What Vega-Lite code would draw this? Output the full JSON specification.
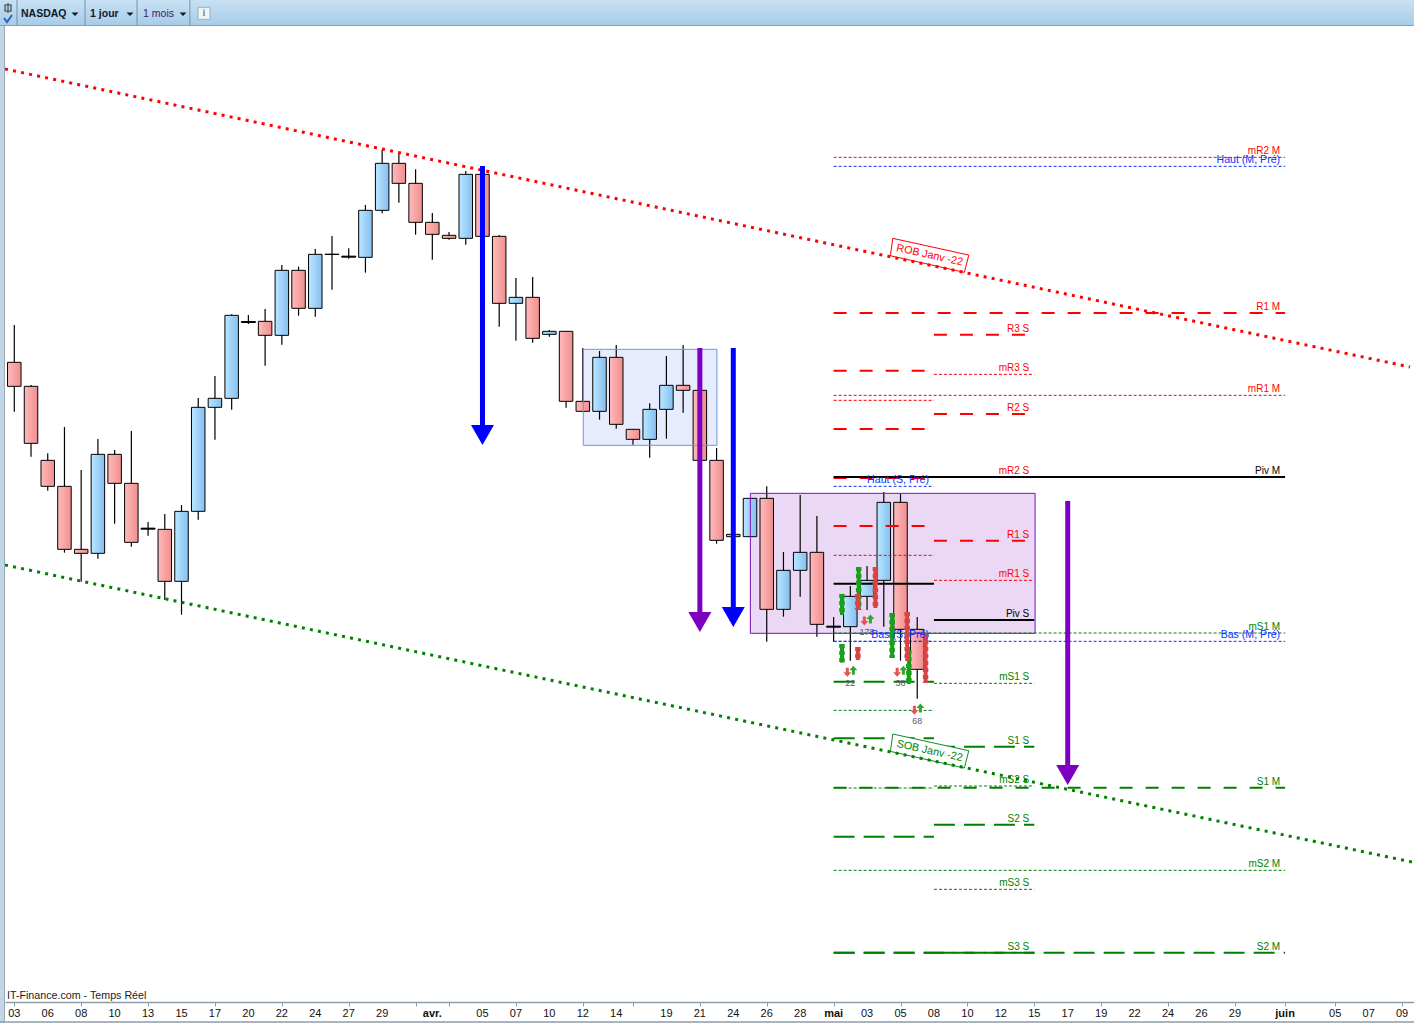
{
"$schema":"https://vega.github.io/schema/vega-lite/v6.json",
"width":1409,"height":976,
"autosize":{"type":"none"},
"padding":{"left":5,"top":26,"right":0,"bottom":21},
"background":"white",
"view":{"stroke":null},
"config":{"scale":{"continuousPadding":0},"axis":{"labelOverlap":false}},
"datasets":{
"dates":[
{"day":0,"price":10072,"text":"03","weight":"normal"},{"day":2,"price":10072,"text":"06","weight":"normal"},{"day":4,"price":10072,"text":"08","weight":"normal"},{"day":6,"price":10072,"text":"10","weight":"normal"},{"day":8,"price":10072,"text":"13","weight":"normal"},{"day":10,"price":10072,"text":"15","weight":"normal"},{"day":12,"price":10072,"text":"17","weight":"normal"},{"day":14,"price":10072,"text":"20","weight":"normal"},{"day":16,"price":10072,"text":"22","weight":"normal"},{"day":18,"price":10072,"text":"24","weight":"normal"},{"day":20,"price":10072,"text":"27","weight":"normal"},{"day":22,"price":10072,"text":"29","weight":"normal"},
{"day":25,"price":10072,"text":"avr.","weight":"bold"},
{"day":28,"price":10072,"text":"05","weight":"normal"},{"day":30,"price":10072,"text":"07","weight":"normal"},{"day":32,"price":10072,"text":"10","weight":"normal"},{"day":34,"price":10072,"text":"12","weight":"normal"},{"day":36,"price":10072,"text":"14","weight":"normal"},{"day":39,"price":10072,"text":"19","weight":"normal"},{"day":41,"price":10072,"text":"21","weight":"normal"},{"day":43,"price":10072,"text":"24","weight":"normal"},{"day":45,"price":10072,"text":"26","weight":"normal"},{"day":47,"price":10072,"text":"28","weight":"normal"},
{"day":49,"price":10072,"text":"mai","weight":"bold"},
{"day":51,"price":10072,"text":"03","weight":"normal"},{"day":53,"price":10072,"text":"05","weight":"normal"},{"day":55,"price":10072,"text":"08","weight":"normal"},{"day":57,"price":10072,"text":"10","weight":"normal"},{"day":59,"price":10072,"text":"12","weight":"normal"},{"day":61,"price":10072,"text":"15","weight":"normal"},{"day":63,"price":10072,"text":"17","weight":"normal"},{"day":65,"price":10072,"text":"19","weight":"normal"},{"day":67,"price":10072,"text":"22","weight":"normal"},{"day":69,"price":10072,"text":"24","weight":"normal"},{"day":71,"price":10072,"text":"26","weight":"normal"},{"day":73,"price":10072,"text":"29","weight":"normal"},
{"day":76,"price":10072,"text":"juin","weight":"bold"},
{"day":79,"price":10072,"text":"05","weight":"normal"},{"day":81,"price":10072,"text":"07","weight":"normal"},{"day":83,"price":10072,"text":"09","weight":"normal"}
],
"candles":[
{"day":0,"open":13982,"high":14206,"low":13686,"close":13838},
{"day":1,"open":13838,"high":13846,"low":13416,"close":13496},
{"day":2,"open":13394,"high":13436,"low":13212,"close":13238},
{"day":3,"open":13238,"high":13594,"low":12840,"close":12860},
{"day":4,"open":12860,"high":13336,"low":12666,"close":12836},
{"day":5,"open":12836,"high":13522,"low":12804,"close":13430},
{"day":6,"open":13430,"high":13456,"low":13014,"close":13256},
{"day":7,"open":13256,"high":13570,"low":12876,"close":12902},
{"day":8,"open":12987,"high":13024,"low":12942,"close":12981},
{"day":9,"open":12980,"high":13072,"low":12556,"close":12668},
{"day":10,"open":12668,"high":13126,"low":12468,"close":13088},
{"day":11,"open":13088,"high":13768,"low":13038,"close":13712},
{"day":12,"open":13712,"high":13900,"low":13518,"close":13766},
{"day":13,"open":13766,"high":14270,"low":13698,"close":14264},
{"day":14,"open":14227,"high":14266,"low":14212,"close":14221},
{"day":15,"open":14228,"high":14302,"low":13962,"close":14144},
{"day":16,"open":14144,"high":14566,"low":14088,"close":14534},
{"day":17,"open":14534,"high":14556,"low":14262,"close":14306},
{"day":18,"open":14306,"high":14662,"low":14256,"close":14630},
{"day":19,"open":14631,"high":14740,"low":14418,"close":14629},
{"day":20,"open":14619,"high":14666,"low":14604,"close":14613},
{"day":21,"open":14612,"high":14926,"low":14520,"close":14894},
{"day":22,"open":14894,"high":15256,"low":14876,"close":15176},
{"day":23,"open":15176,"high":15236,"low":14940,"close":15056},
{"day":24,"open":15056,"high":15140,"low":14748,"close":14822},
{"day":25,"open":14822,"high":14878,"low":14598,"close":14750},
{"day":26,"open":14744,"high":14764,"low":14718,"close":14726},
{"day":27,"open":14726,"high":15130,"low":14688,"close":15110},
{"day":28,"open":15110,"high":15136,"low":14738,"close":14738},
{"day":29,"open":14738,"high":14746,"low":14196,"close":14336},
{"day":30,"open":14336,"high":14488,"low":14112,"close":14372},
{"day":31,"open":14372,"high":14494,"low":14100,"close":14126},
{"day":32,"open":14150,"high":14176,"low":14136,"close":14168},
{"day":33,"open":14168,"high":14170,"low":13710,"close":13748},
{"day":34,"open":13748,"high":14068,"low":13688,"close":13688},
{"day":35,"open":13688,"high":14050,"low":13638,"close":14012},
{"day":36,"open":14012,"high":14086,"low":13584,"close":13610},
{"day":37,"open":13580,"high":13582,"low":13488,"close":13520},
{"day":38,"open":13520,"high":13736,"low":13410,"close":13700},
{"day":39,"open":13700,"high":14020,"low":13524,"close":13844},
{"day":40,"open":13844,"high":14086,"low":13680,"close":13814},
{"day":41,"open":13814,"high":14044,"low":13390,"close":13394},
{"day":42,"open":13394,"high":13468,"low":12894,"close":12914},
{"day":43,"open":12950,"high":12976,"low":12916,"close":12936},
{"day":44,"open":12936,"high":13168,"low":12934,"close":13166},
{"day":45,"open":13166,"high":13238,"low":12306,"close":12500},
{"day":46,"open":12500,"high":12844,"low":12456,"close":12734},
{"day":47,"open":12734,"high":13186,"low":12576,"close":12842},
{"day":48,"open":12842,"high":13060,"low":12336,"close":12410},
{"day":49,"open":12399,"high":12454,"low":12306,"close":12393},
{"day":50,"open":12396,"high":12640,"low":12192,"close":12578},
{"day":51,"open":12578,"high":12760,"low":12496,"close":12674},
{"day":52,"open":12674,"high":13204,"low":12396,"close":13142},
{"day":53,"open":13142,"high":13192,"low":12192,"close":12380},
{"day":54,"open":12380,"high":12454,"low":11964,"close":12140}
],
"levels":[
{"label":"mR2 M","start":49,"end":76,"price":15212,"family":"res","style":"thin"},
{"label":"Haut (M, Pré)","start":49,"end":76,"price":15158,"family":"pre","style":"thin"},
{"label":"R1 M","start":49,"end":76,"price":14278,"family":"res","style":"thick"},
{"label":"mR1 M","start":49,"end":76,"price":13784,"family":"res","style":"thin"},
{"label":"Piv M","start":49,"end":76,"price":13294,"family":"piv","style":"solid"},
{"label":"mS1 M","start":49,"end":76,"price":12358,"family":"sup","style":"thin"},
{"label":"Bas (M, Pré)","start":49,"end":76,"price":12308,"family":"pre","style":"thin"},
{"label":"S1 M","start":49,"end":76,"price":11430,"family":"sup","style":"thick"},
{"label":"mS2 M","start":49,"end":76,"price":10934,"family":"sup","style":"thin"},
{"label":"S2 M","start":49,"end":76,"price":10440,"family":"sup","style":"long"},
{"label":"","start":49,"end":55,"price":13932,"family":"res","style":"thick"},
{"label":"","start":49,"end":55,"price":13754,"family":"res","style":"thin"},
{"label":"","start":49,"end":55,"price":13582,"family":"res","style":"thick"},
{"label":"","start":49,"end":55,"price":13288,"family":"res","style":"thick"},
{"label":"Haut (S, Pré)","start":49,"end":55,"price":13238,"family":"pre","style":"thin"},
{"label":"","start":49,"end":55,"price":13000,"family":"res","style":"thick"},
{"label":"","start":49,"end":55,"price":12824,"family":"res","style":"thin"},
{"label":"","start":49,"end":55,"price":12654,"family":"piv","style":"solid"},
{"label":"Bas (S, Pré)","start":49,"end":55,"price":12308,"family":"pre","style":"thin"},
{"label":"","start":49,"end":55,"price":12066,"family":"sup","style":"long"},
{"label":"","start":49,"end":55,"price":11894,"family":"sup","style":"thin"},
{"label":"","start":49,"end":55,"price":11726,"family":"sup","style":"long"},
{"label":"","start":49,"end":55,"price":11428,"family":"sup","style":"thin"},
{"label":"","start":49,"end":55,"price":11136,"family":"sup","style":"long"},
{"label":"","start":49,"end":55,"price":10440,"family":"sup","style":"long"},
{"label":"R3 S","start":55,"end":61,"price":14148,"family":"res","style":"thick"},
{"label":"mR3 S","start":55,"end":61,"price":13910,"family":"res","style":"thin"},
{"label":"R2 S","start":55,"end":61,"price":13672,"family":"res","style":"thick"},
{"label":"mR2 S","start":55,"end":61,"price":13294,"family":"res","style":"thin"},
{"label":"R1 S","start":55,"end":61,"price":12912,"family":"res","style":"thick"},
{"label":"mR1 S","start":55,"end":61,"price":12674,"family":"res","style":"thin"},
{"label":"Piv S","start":55,"end":61,"price":12436,"family":"piv","style":"solid"},
{"label":"mS1 S","start":55,"end":61,"price":12056,"family":"sup","style":"thin"},
{"label":"S1 S","start":55,"end":61,"price":11676,"family":"sup","style":"long"},
{"label":"mS2 S","start":55,"end":61,"price":11440,"family":"sup","style":"thin"},
{"label":"S2 S","start":55,"end":61,"price":11208,"family":"sup","style":"long"},
{"label":"mS3 S","start":55,"end":61,"price":10820,"family":"sup","style":"thin"},
{"label":"S3 S","start":55,"end":61,"price":10440,"family":"sup","style":"long"}
],
"trends":[
{"line":"ROB","day":-0.556,"price":15742,"family":"res"},
{"line":"ROB","day":83.47,"price":13954,"family":"res"},
{"line":"SOB","day":-0.556,"price":12766,"family":"sup"},
{"line":"SOB","day":83.59,"price":10984,"family":"sup"}
],
"strips":[
{"day":49.5,"price":12592,"price2":12466,"family":"g"},
{"day":49.5,"price":12292,"price2":12180,"family":"g"},
{"day":50.5,"price":12754,"price2":12496,"family":"g"},
{"day":52.5,"price":12478,"price2":12208,"family":"g"},
{"day":53.5,"price":12256,"price2":12052,"family":"g"},
{"day":50.45,"price":12592,"price2":12496,"family":"r"},
{"day":50.45,"price":12274,"price2":12196,"family":"r"},
{"day":51.5,"price":12754,"price2":12508,"family":"r"},
{"day":53.4,"price":12484,"price2":12190,"family":"r"},
{"day":54.5,"price":12358,"price2":12058,"family":"r"}
],
"arrows":[
{"day":28,"price":15160,"head":13606,"family":"bleu"},
{"day":41,"price":14068,"head":12484,"family":"violet"},
{"day":43,"price":14068,"head":12514,"family":"bleu"},
{"day":63,"price":13150,"head":11566,"family":"violet"}
],
"signals":[
{"day":49.82,"price":12122,"dir":"down"},{"day":50.18,"price":12134,"dir":"up"},
{"day":52.8,"price":12122,"dir":"down"},{"day":53.17,"price":12134,"dir":"up"},
{"day":53.83,"price":11894,"dir":"down"},{"day":54.19,"price":11908,"dir":"up"},
{"day":50.84,"price":12430,"dir":"down"},{"day":51.2,"price":12442,"dir":"up"}
],
"counts":[
{"day":50,"price":12058,"count":"22"},
{"day":51,"price":12364,"count":"178"},
{"day":53,"price":12058,"count":"38"},
{"day":54,"price":11830,"count":"68"}
],
"tags":[
{"day":54.74,"price":14624,"tag":"ROB Janv -22","family":"res"},
{"day":54.74,"price":11650,"tag":"SOB Janv -22","family":"sup"}
],
"zones":[
{"zone":"bleu","day":34.03,"day2":42.02,"price":14060,"price2":13484},
{"zone":"violet","day":44.02,"day2":61.05,"price":13196,"price2":12356}
],
"seps":[{"day":0.16,"price":16156,"price2":16003},{"day":4.23,"price":16156,"price2":16003},{"day":7.34,"price":16156,"price2":16003},{"day":10.5,"price":16156,"price2":16003}],
"menus":[
{"day":0.4,"price":16072,"text":"NASDAQ","weight":"bold"},
{"day":4.53,"price":16074,"text":"1 jour","weight":"bold"},
{"day":7.7,"price":16071,"text":"1 mois","weight":"normal"}
],
"carets":[{"day":3.63,"price":16072},{"day":6.92,"price":16072},{"day":10.09,"price":16072}]
},
"layer":[
{
"data":{"name":"zones"},
"transform":[{"filter":"datum.zone=='bleu'"}],
"mark":{"type":"rect","fill":"#e6ecfd","stroke":null},
"encoding":{"x":{"field":"day","type":"quantitative","title":null,
"scale":{"domain":[-0.556,83.71],"nice":false,"zero":false},
"axis":{"values":[0,2,4,6,8,10,12,14,16,18,20,22,24,25,26,28,30,32,34,36,37,39,41,43,45,47,49,51,53,55,57,59,61,63,65,67,69,71,73,75,76,77,79,81,83],
"labels":false,"labelExpr":"''","grid":false,
"tickColor":"#8c9ba6","tickSize":4,"tickWidth":1,"domainColor":"#8c9ba6","domainWidth":1.5}},
"x2":{"field":"day2"},
"y":{"field":"price","type":"quantitative","axis":null,"scale":{"domain":[10144,16000],"nice":false,"zero":false}},"y2":{"field":"price2"}}
},
{
"data":{"name":"zones"},
"transform":[{"filter":"datum.zone=='violet'"}],
"mark":{"type":"rect","fill":"#ead8f4","stroke":null},
"encoding":{"x":{"field":"day","type":"quantitative","scale":{"domain":[-0.556,83.71],"nice":false,"zero":false}},"x2":{"field":"day2"},
"y":{"field":"price","type":"quantitative","axis":null,"scale":{"domain":[10144,16000],"nice":false,"zero":false}},"y2":{"field":"price2"}}
},
{
"data":{"name":"candles"},
"mark":{"type":"rule","stroke":"black","strokeWidth":1.2},
"encoding":{"x":{"field":"day","type":"quantitative","scale":{"domain":[-0.556,83.71],"nice":false,"zero":false}},
"y":{"field":"high","type":"quantitative","axis":null,"scale":{"domain":[10144,16000],"nice":false,"zero":false}},
"y2":{"field":"low"}}
},
{
"data":{"name":"candles"},
"transform":[{"filter":"datum.open-datum.close>6"}],
"mark":{"type":"bar","size":13.5,"stroke":"black","strokeWidth":1,"fill":{"gradient":"linear","x1":0,"y1":0,"x2":1,"y2":0,"stops":[{"offset":0,"color":"#ffbaba"},{"offset":1,"color":"#f08e8e"}]}},
"encoding":{"x":{"field":"day","type":"quantitative","scale":{"domain":[-0.556,83.71],"nice":false,"zero":false}},
"y":{"field":"open","type":"quantitative","axis":null,"scale":{"domain":[10144,16000],"nice":false,"zero":false}},"y2":{"field":"close"}}
},
{
"data":{"name":"candles"},
"transform":[{"filter":"datum.close-datum.open>6"}],
"mark":{"type":"bar","size":13.5,"stroke":"black","strokeWidth":1,"fill":{"gradient":"linear","x1":0,"y1":0,"x2":1,"y2":0,"stops":[{"offset":0,"color":"#b9e7ff"},{"offset":1,"color":"#86bef0"}]}},
"encoding":{"x":{"field":"day","type":"quantitative","scale":{"domain":[-0.556,83.71],"nice":false,"zero":false}},
"y":{"field":"open","type":"quantitative","axis":null,"scale":{"domain":[10144,16000],"nice":false,"zero":false}},"y2":{"field":"close"}}
},
{
"data":{"name":"candles"},
"transform":[{"filter":"abs(datum.close-datum.open)<=6"}],
"mark":{"type":"bar","size":14,"stroke":"black","strokeWidth":1,"fill":"black"},
"encoding":{"x":{"field":"day","type":"quantitative","scale":{"domain":[-0.556,83.71],"nice":false,"zero":false}},
"y":{"field":"open","type":"quantitative","axis":null,"scale":{"domain":[10144,16000],"nice":false,"zero":false}},"y2":{"field":"close"}}
},
{
"data":{"name":"zones"},
"transform":[{"filter":"datum.zone=='bleu'"}],
"mark":{"type":"rect","fill":null,"stroke":"#6f94e8","strokeWidth":1},
"encoding":{"x":{"field":"day","type":"quantitative","scale":{"domain":[-0.556,83.71],"nice":false,"zero":false}},"x2":{"field":"day2"},
"y":{"field":"price","type":"quantitative","axis":null,"scale":{"domain":[10144,16000],"nice":false,"zero":false}},"y2":{"field":"price2"}}
},
{
"data":{"name":"zones"},
"transform":[{"filter":"datum.zone=='violet'"}],
"mark":{"type":"rect","fill":null,"stroke":"#7b10c0","strokeWidth":1},
"encoding":{"x":{"field":"day","type":"quantitative","scale":{"domain":[-0.556,83.71],"nice":false,"zero":false}},"x2":{"field":"day2"},
"y":{"field":"price","type":"quantitative","axis":null,"scale":{"domain":[10144,16000],"nice":false,"zero":false}},"y2":{"field":"price2"}}
},
{
"data":{"name":"levels"},
"transform":[{"filter":"datum.style=='thin'"}],
"mark":{"type":"rule","strokeWidth":1,"strokeDash":[3,2]},
"encoding":{"x":{"field":"start","type":"quantitative","scale":{"domain":[-0.556,83.71],"nice":false,"zero":false}},"x2":{"field":"end"},
"y":{"field":"price","type":"quantitative","axis":null,"scale":{"domain":[10144,16000],"nice":false,"zero":false}},
"color":{"field":"family","type":"nominal","legend":null,"scale":{"domain":["res","sup","pre","piv","bleu","violet"],"range":["#ff0000","#008000","#0a32ff","#000000","#0000ff","#7b00c0"]}}}
},
{
"data":{"name":"levels"},
"transform":[{"filter":"datum.style=='thick'"}],
"mark":{"type":"rule","strokeWidth":2,"strokeDash":[13,13]},
"encoding":{"x":{"field":"start","type":"quantitative","scale":{"domain":[-0.556,83.71],"nice":false,"zero":false}},"x2":{"field":"end"},
"y":{"field":"price","type":"quantitative","axis":null,"scale":{"domain":[10144,16000],"nice":false,"zero":false}},
"color":{"field":"family","type":"nominal","legend":null,"scale":{"domain":["res","sup","pre","piv","bleu","violet"],"range":["#ff0000","#008000","#0a32ff","#000000","#0000ff","#7b00c0"]}}}
},
{
"data":{"name":"levels"},
"transform":[{"filter":"datum.style=='long'"}],
"mark":{"type":"rule","strokeWidth":2,"strokeDash":[21,9]},
"encoding":{"x":{"field":"start","type":"quantitative","scale":{"domain":[-0.556,83.71],"nice":false,"zero":false}},"x2":{"field":"end"},
"y":{"field":"price","type":"quantitative","axis":null,"scale":{"domain":[10144,16000],"nice":false,"zero":false}},
"color":{"field":"family","type":"nominal","legend":null,"scale":{"domain":["res","sup","pre","piv","bleu","violet"],"range":["#ff0000","#008000","#0a32ff","#000000","#0000ff","#7b00c0"]}}}
},
{
"data":{"name":"levels"},
"transform":[{"filter":"datum.style=='solid'"}],
"mark":{"type":"rule","strokeWidth":2},
"encoding":{"x":{"field":"start","type":"quantitative","scale":{"domain":[-0.556,83.71],"nice":false,"zero":false}},"x2":{"field":"end"},
"y":{"field":"price","type":"quantitative","axis":null,"scale":{"domain":[10144,16000],"nice":false,"zero":false}},
"color":{"field":"family","type":"nominal","legend":null,"scale":{"domain":["res","sup","pre","piv","bleu","violet"],"range":["#ff0000","#008000","#0a32ff","#000000","#0000ff","#7b00c0"]}}}
},
{
"data":{"name":"tags"},
"mark":{"type":"point","filled":true,"opacity":1,"fill":"white","strokeWidth":1,"size":4,"shape":"M -36.8 -17 L 39.2 -0.3 L 34.8 17 L -39.2 0.4 Z"},
"encoding":{"x":{"field":"day","type":"quantitative","scale":{"domain":[-0.556,83.71],"nice":false,"zero":false}},
"y":{"field":"price","type":"quantitative","axis":null,"scale":{"domain":[10144,16000],"nice":false,"zero":false}},
"stroke":{"field":"family","type":"nominal","legend":null,"scale":{"domain":["res","sup"],"range":["#ff0000","#0e8a2a"]}}}
},
{
"data":{"name":"trends"},
"mark":{"type":"line","strokeWidth":3,"strokeDash":[3,5.2]},
"encoding":{"x":{"field":"day","type":"quantitative","scale":{"domain":[-0.556,83.71],"nice":false,"zero":false}},
"y":{"field":"price","type":"quantitative","axis":null,"scale":{"domain":[10144,16000],"nice":false,"zero":false}},
"detail":{"field":"line"},
"color":{"field":"family","type":"nominal","legend":null,"scale":{"domain":["res","sup","pre","piv","bleu","violet"],"range":["#ff0000","#008000","#0a32ff","#000000","#0000ff","#7b00c0"]}}}
},
{
"data":{"name":"tags"},
"mark":{"type":"text","fontSize":10.8,"angle":12.5,"align":"center","baseline":"middle","font":"Liberation Sans"},
"encoding":{"x":{"field":"day","type":"quantitative","scale":{"domain":[-0.556,83.71],"nice":false,"zero":false}},
"y":{"field":"price","type":"quantitative","axis":null,"scale":{"domain":[10144,16000],"nice":false,"zero":false}},
"text":{"field":"tag"},
"color":{"field":"family","type":"nominal","legend":null,"scale":{"domain":["res","sup","pre","piv","bleu","violet"],"range":["#ff0000","#008000","#0a32ff","#000000","#0000ff","#7b00c0"]}}}
},
{
"data":{"name":"strips"},
"transform":[{"filter":"datum.family=='g'"}],
"mark":{"type":"rule","stroke":"#18a018","strokeWidth":4},
"encoding":{"x":{"field":"day","type":"quantitative","scale":{"domain":[-0.556,83.71],"nice":false,"zero":false}},
"y":{"field":"price","type":"quantitative","axis":null,"scale":{"domain":[10144,16000],"nice":false,"zero":false}},"y2":{"field":"price2"}}
},
{
"data":{"name":"strips"},
"transform":[{"filter":"datum.family=='g'"}],
"mark":{"type":"rule","stroke":"#18a018","strokeWidth":5.5,"strokeDash":[4,3]},
"encoding":{"x":{"field":"day","type":"quantitative","scale":{"domain":[-0.556,83.71],"nice":false,"zero":false}},
"y":{"field":"price","type":"quantitative","axis":null,"scale":{"domain":[10144,16000],"nice":false,"zero":false}},"y2":{"field":"price2"}}
},
{
"data":{"name":"strips"},
"transform":[{"filter":"datum.family=='r'"}],
"mark":{"type":"rule","stroke":"#d84444","strokeWidth":4},
"encoding":{"x":{"field":"day","type":"quantitative","scale":{"domain":[-0.556,83.71],"nice":false,"zero":false}},
"y":{"field":"price","type":"quantitative","axis":null,"scale":{"domain":[10144,16000],"nice":false,"zero":false}},"y2":{"field":"price2"}}
},
{
"data":{"name":"strips"},
"transform":[{"filter":"datum.family=='r'"}],
"mark":{"type":"rule","stroke":"#d84444","strokeWidth":5.5,"strokeDash":[4,3]},
"encoding":{"x":{"field":"day","type":"quantitative","scale":{"domain":[-0.556,83.71],"nice":false,"zero":false}},
"y":{"field":"price","type":"quantitative","axis":null,"scale":{"domain":[10144,16000],"nice":false,"zero":false}},"y2":{"field":"price2"}}
},
{
"data":{"name":"signals"},
"transform":[{"filter":"datum.dir=='down'"}],
"mark":{"type":"point","filled":true,"opacity":1,"fill":"#e25555","strokeWidth":0,"size":4,"shape":"M -1.5 -4.5 L 1.5 -4.5 L 1.5 0 L 4 0 L 0 4.5 L -4 0 L -1.5 0 Z"},
"encoding":{"x":{"field":"day","type":"quantitative","scale":{"domain":[-0.556,83.71],"nice":false,"zero":false}},
"y":{"field":"price","type":"quantitative","axis":null,"scale":{"domain":[10144,16000],"nice":false,"zero":false}}}
},
{
"data":{"name":"signals"},
"transform":[{"filter":"datum.dir=='up'"}],
"mark":{"type":"point","filled":true,"opacity":1,"fill":"#2fa82f","strokeWidth":0,"size":4,"shape":"M -1.5 4.5 L 1.5 4.5 L 1.5 0 L 4 0 L 0 -4.5 L -4 0 L -1.5 0 Z"},
"encoding":{"x":{"field":"day","type":"quantitative","scale":{"domain":[-0.556,83.71],"nice":false,"zero":false}},
"y":{"field":"price","type":"quantitative","axis":null,"scale":{"domain":[10144,16000],"nice":false,"zero":false}}}
},
{
"data":{"name":"counts"},
"mark":{"type":"text","fontSize":9,"fill":"#5a5a70","align":"center","baseline":"middle","font":"Liberation Sans"},
"encoding":{"x":{"field":"day","type":"quantitative","scale":{"domain":[-0.556,83.71],"nice":false,"zero":false}},
"y":{"field":"price","type":"quantitative","axis":null,"scale":{"domain":[10144,16000],"nice":false,"zero":false}},
"text":{"field":"count"}}
},
{
"data":{"name":"arrows"},
"mark":{"type":"rule","strokeWidth":5},
"encoding":{"x":{"field":"day","type":"quantitative","scale":{"domain":[-0.556,83.71],"nice":false,"zero":false}},
"y":{"field":"price","type":"quantitative","axis":null,"scale":{"domain":[10144,16000],"nice":false,"zero":false}},"y2":{"field":"head"},
"color":{"field":"family","type":"nominal","legend":null,"scale":{"domain":["res","sup","pre","piv","bleu","violet"],"range":["#ff0000","#008000","#0a32ff","#000000","#0000ff","#7b00c0"]}}}
},
{
"data":{"name":"arrows"},
"mark":{"type":"point","filled":true,"opacity":1,"strokeWidth":0,"size":4,"shape":"M -11.5 0 L 11.5 0 L 0 20 Z"},
"encoding":{"x":{"field":"day","type":"quantitative","scale":{"domain":[-0.556,83.71],"nice":false,"zero":false}},
"y":{"field":"head","type":"quantitative","axis":null,"scale":{"domain":[10144,16000],"nice":false,"zero":false}},
"color":{"field":"family","type":"nominal","legend":null,"scale":{"domain":["res","sup","pre","piv","bleu","violet"],"range":["#ff0000","#008000","#0a32ff","#000000","#0000ff","#7b00c0"]}}}
},
{
"data":{"name":"levels"},
"transform":[{"filter":"datum.label!='' && datum.family!='pre'"}],
"mark":{"type":"text","fontSize":10,"align":"right","baseline":"middle","dx":-5,"dy":-6,"font":"Liberation Sans"},
"encoding":{"x":{"field":"end","type":"quantitative","scale":{"domain":[-0.556,83.71],"nice":false,"zero":false}},
"y":{"field":"price","type":"quantitative","axis":null,"scale":{"domain":[10144,16000],"nice":false,"zero":false}},
"text":{"field":"label"},
"color":{"field":"family","type":"nominal","legend":null,"scale":{"domain":["res","sup","pre","piv","bleu","violet"],"range":["#ff0000","#008000","#0a32ff","#000000","#0000ff","#7b00c0"]}}}
},
{
"data":{"name":"levels"},
"transform":[{"filter":"datum.label!='' && datum.family=='pre'"}],
"mark":{"type":"text","fontSize":10.6,"align":"right","baseline":"middle","dx":-5,"dy":-6.5,"font":"Liberation Sans"},
"encoding":{"x":{"field":"end","type":"quantitative","scale":{"domain":[-0.556,83.71],"nice":false,"zero":false}},
"y":{"field":"price","type":"quantitative","axis":null,"scale":{"domain":[10144,16000],"nice":false,"zero":false}},
"text":{"field":"label"},
"color":{"field":"family","type":"nominal","legend":null,"scale":{"domain":["res","sup","pre","piv","bleu","violet"],"range":["#ff0000","#008000","#0a32ff","#000000","#0000ff","#7b00c0"]}}}
},
{
"data":{"values":[{"day":-0.437,"price":10180,"text":"IT-Finance.com - Temps Réel"}]},
"mark":{"type":"text","fontSize":10.7,"align":"left","baseline":"middle","fill":"#222222","font":"Liberation Sans"},
"encoding":{"x":{"field":"day","type":"quantitative","scale":{"domain":[-0.556,83.71],"nice":false,"zero":false}},
"y":{"field":"price","type":"quantitative","axis":null,"scale":{"domain":[10144,16000],"nice":false,"zero":false}},
"text":{"field":"text"}}
},
{
"data":{"name":"dates"},
"transform":[{"filter":"datum.weight=='normal'"}],
"mark":{"type":"text","fontSize":11,"align":"center","baseline":"middle","fill":"#111111","font":"Liberation Sans"},
"encoding":{"x":{"field":"day","type":"quantitative","scale":{"domain":[-0.556,83.71],"nice":false,"zero":false}},
"y":{"field":"price","type":"quantitative","axis":null,"scale":{"domain":[10144,16000],"nice":false,"zero":false}},
"text":{"field":"text"}}
},
{
"data":{"name":"dates"},
"transform":[{"filter":"datum.weight=='bold'"}],
"mark":{"type":"text","fontSize":11,"fontWeight":"bold","align":"center","baseline":"middle","fill":"#111111","font":"Liberation Sans"},
"encoding":{"x":{"field":"day","type":"quantitative","scale":{"domain":[-0.556,83.71],"nice":false,"zero":false}},
"y":{"field":"price","type":"quantitative","axis":null,"scale":{"domain":[10144,16000],"nice":false,"zero":false}},
"text":{"field":"text"}}
},
{
"data":{"values":[{"day":-0.856,"day2":83.71,"price":16156,"price2":16000}]},
"mark":{"type":"rect","stroke":null,"fill":{"gradient":"linear","x1":0,"y1":0,"x2":0,"y2":1,"stops":[{"offset":0,"color":"#c8e0f3"},{"offset":1,"color":"#a6cce8"}]}},
"encoding":{"x":{"field":"day","type":"quantitative","scale":{"domain":[-0.556,83.71],"nice":false,"zero":false}},"x2":{"field":"day2"},
"y":{"field":"price","type":"quantitative","axis":null,"scale":{"domain":[10144,16000],"nice":false,"zero":false}},"y2":{"field":"price2"}}
},
{
"data":{"values":[{"day":-0.856,"day2":-0.586,"price":16000,"price2":10018}]},
"mark":{"type":"rect","fill":"#c3d6e4","stroke":null},
"encoding":{"x":{"field":"day","type":"quantitative","scale":{"domain":[-0.556,83.71],"nice":false,"zero":false}},"x2":{"field":"day2"},
"y":{"field":"price","type":"quantitative","axis":null,"scale":{"domain":[10144,16000],"nice":false,"zero":false}},"y2":{"field":"price2"}}
},
{
"data":{"values":[{"day":-0.856,"day2":83.71,"price":16003}]},
"mark":{"type":"rule","stroke":"#7fa2bd","strokeWidth":1},
"encoding":{"x":{"field":"day","type":"quantitative","scale":{"domain":[-0.556,83.71],"nice":false,"zero":false}},"x2":{"field":"day2"},
"y":{"field":"price","type":"quantitative","axis":null,"scale":{"domain":[10144,16000],"nice":false,"zero":false}}}
},
{
"data":{"values":[{"day":-0.856,"day2":83.71,"price":10024}]},
"mark":{"type":"rule","stroke":"#8c9ba6","strokeWidth":1.5},
"encoding":{"x":{"field":"day","type":"quantitative","scale":{"domain":[-0.556,83.71],"nice":false,"zero":false}},"x2":{"field":"day2"},
"y":{"field":"price","type":"quantitative","axis":null,"scale":{"domain":[10144,16000],"nice":false,"zero":false}}}
},
{
"data":{"values":[{"day":-0.586,"price":16003,"price2":10018}]},
"mark":{"type":"rule","stroke":"#98abb9","strokeWidth":1},
"encoding":{"x":{"field":"day","type":"quantitative","scale":{"domain":[-0.556,83.71],"nice":false,"zero":false}},
"y":{"field":"price","type":"quantitative","axis":null,"scale":{"domain":[10144,16000],"nice":false,"zero":false}},"y2":{"field":"price2"}}
},
{
"data":{"name":"seps"},
"mark":{"type":"rule","stroke":"#6f93b0","strokeWidth":1},
"encoding":{"x":{"field":"day","type":"quantitative","scale":{"domain":[-0.556,83.71],"nice":false,"zero":false}},
"y":{"field":"price","type":"quantitative","axis":null,"scale":{"domain":[10144,16000],"nice":false,"zero":false}},"y2":{"field":"price2"}}
},
{
"data":{"name":"menus"},
"transform":[{"filter":"datum.weight=='bold'"}],
"mark":{"type":"text","align":"left","baseline":"middle","font":"Liberation Sans","fontWeight":"bold","fontSize":10.5,"fill":"#10182a"},
"encoding":{"x":{"field":"day","type":"quantitative","scale":{"domain":[-0.556,83.71],"nice":false,"zero":false}},
"y":{"field":"price","type":"quantitative","axis":null,"scale":{"domain":[10144,16000],"nice":false,"zero":false}},
"text":{"field":"text"}}
},
{
"data":{"name":"menus"},
"transform":[{"filter":"datum.weight=='normal'"}],
"mark":{"type":"text","align":"left","baseline":"middle","font":"Liberation Sans","fontSize":10.5,"fill":"#401a60"},
"encoding":{"x":{"field":"day","type":"quantitative","scale":{"domain":[-0.556,83.71],"nice":false,"zero":false}},
"y":{"field":"price","type":"quantitative","axis":null,"scale":{"domain":[10144,16000],"nice":false,"zero":false}},
"text":{"field":"text"}}
},
{
"data":{"name":"carets"},
"mark":{"type":"point","filled":true,"opacity":1,"fill":"#10182a","strokeWidth":0,"size":4,"shape":"M -3.5 -1.5 L 3.5 -1.5 L 0 2 Z"},
"encoding":{"x":{"field":"day","type":"quantitative","scale":{"domain":[-0.556,83.71],"nice":false,"zero":false}},
"y":{"field":"price","type":"quantitative","axis":null,"scale":{"domain":[10144,16000],"nice":false,"zero":false}}}
},
{
"data":{"values":[{"day":11.345,"price":16076}]},
"mark":{"type":"point","filled":true,"opacity":1,"fill":"#eef3f8","stroke":"#9fb0be","strokeWidth":1,"size":4,"shape":"M -6 -6 L 6 -6 L 6 6 L -6 6 Z"},
"encoding":{"x":{"field":"day","type":"quantitative","scale":{"domain":[-0.556,83.71],"nice":false,"zero":false}},
"y":{"field":"price","type":"quantitative","axis":null,"scale":{"domain":[10144,16000],"nice":false,"zero":false}}}
},
{
"data":{"values":[{"day":11.345,"price":16076,"text":"i"}]},
"mark":{"type":"text","fontSize":10,"fontWeight":"bold","align":"center","baseline":"middle","fill":"#7f8a94","font":"Liberation Serif"},
"encoding":{"x":{"field":"day","type":"quantitative","scale":{"domain":[-0.556,83.71],"nice":false,"zero":false}},
"y":{"field":"price","type":"quantitative","axis":null,"scale":{"domain":[10144,16000],"nice":false,"zero":false}},
"text":{"field":"text"}}
},
{
"data":{"values":[{"day":-0.376,"price":16108}]},
"mark":{"type":"point","filled":false,"opacity":1,"stroke":"#5a6670","strokeWidth":1.5,"size":4,"shape":"M -3 -3 L 3 -3 L 3 3 L -3 3 Z M 0 -5 L 0 5"},
"encoding":{"x":{"field":"day","type":"quantitative","scale":{"domain":[-0.556,83.71],"nice":false,"zero":false}},
"y":{"field":"price","type":"quantitative","axis":null,"scale":{"domain":[10144,16000],"nice":false,"zero":false}}}
},
{
"data":{"values":[{"day":-0.376,"price":16042}]},
"mark":{"type":"point","filled":false,"opacity":1,"stroke":"#2a62c8","strokeWidth":2,"size":4,"shape":"M -4 -1 L -1 3 L 4 -4"},
"encoding":{"x":{"field":"day","type":"quantitative","scale":{"domain":[-0.556,83.71],"nice":false,"zero":false}},
"y":{"field":"price","type":"quantitative","axis":null,"scale":{"domain":[10144,16000],"nice":false,"zero":false}}}
}
]
}
